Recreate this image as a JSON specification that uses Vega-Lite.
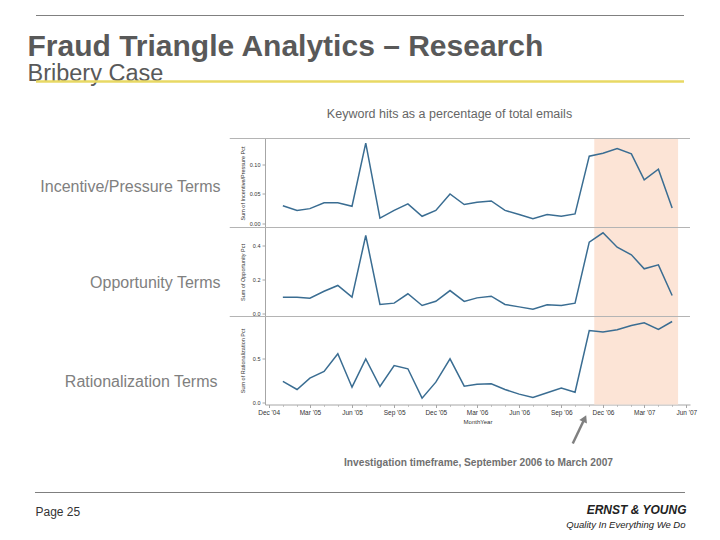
{
  "$schema": "https://vega.github.io/schema/vega-lite/v6.json",
  "background": "white",
  "padding": {"left": 27, "top": 14.5, "right": 5, "bottom": 5},
  "bounds": "flush",
  "spacing": 0,
  "resolve": {"scale": {"x": "independent", "y": "independent"}},
  "datasets": {
    "emails": [
      {"MonthYear": "2005-01-01", "Incentive/Pressure Pct": 0.030, "Opportunity Pct": 0.096, "Rationalization Pct": 0.239},
      {"MonthYear": "2005-02-01", "Incentive/Pressure Pct": 0.022, "Opportunity Pct": 0.096, "Rationalization Pct": 0.148},
      {"MonthYear": "2005-03-01", "Incentive/Pressure Pct": 0.025, "Opportunity Pct": 0.090, "Rationalization Pct": 0.277},
      {"MonthYear": "2005-04-01", "Incentive/Pressure Pct": 0.035, "Opportunity Pct": 0.131, "Rationalization Pct": 0.352},
      {"MonthYear": "2005-05-01", "Incentive/Pressure Pct": 0.035, "Opportunity Pct": 0.165, "Rationalization Pct": 0.553},
      {"MonthYear": "2005-06-01", "Incentive/Pressure Pct": 0.029, "Opportunity Pct": 0.096, "Rationalization Pct": 0.174},
      {"MonthYear": "2005-07-01", "Incentive/Pressure Pct": 0.136, "Opportunity Pct": 0.459, "Rationalization Pct": 0.496},
      {"MonthYear": "2005-08-01", "Incentive/Pressure Pct": 0.009, "Opportunity Pct": 0.053, "Rationalization Pct": 0.182},
      {"MonthYear": "2005-09-01", "Incentive/Pressure Pct": 0.022, "Opportunity Pct": 0.061, "Rationalization Pct": 0.420},
      {"MonthYear": "2005-10-01", "Incentive/Pressure Pct": 0.033, "Opportunity Pct": 0.116, "Rationalization Pct": 0.383},
      {"MonthYear": "2005-11-01", "Incentive/Pressure Pct": 0.012, "Opportunity Pct": 0.047, "Rationalization Pct": 0.049},
      {"MonthYear": "2005-12-01", "Incentive/Pressure Pct": 0.022, "Opportunity Pct": 0.072, "Rationalization Pct": 0.231},
      {"MonthYear": "2006-01-01", "Incentive/Pressure Pct": 0.050, "Opportunity Pct": 0.135, "Rationalization Pct": 0.496},
      {"MonthYear": "2006-02-01", "Incentive/Pressure Pct": 0.032, "Opportunity Pct": 0.071, "Rationalization Pct": 0.186},
      {"MonthYear": "2006-03-01", "Incentive/Pressure Pct": 0.036, "Opportunity Pct": 0.092, "Rationalization Pct": 0.208},
      {"MonthYear": "2006-04-01", "Incentive/Pressure Pct": 0.038, "Opportunity Pct": 0.102, "Rationalization Pct": 0.212},
      {"MonthYear": "2006-05-01", "Incentive/Pressure Pct": 0.022, "Opportunity Pct": 0.053, "Rationalization Pct": 0.148},
      {"MonthYear": "2006-06-01", "Incentive/Pressure Pct": 0.015, "Opportunity Pct": 0.039, "Rationalization Pct": 0.095},
      {"MonthYear": "2006-07-01", "Incentive/Pressure Pct": 0.008, "Opportunity Pct": 0.025, "Rationalization Pct": 0.057},
      {"MonthYear": "2006-08-01", "Incentive/Pressure Pct": 0.015, "Opportunity Pct": 0.051, "Rationalization Pct": 0.110},
      {"MonthYear": "2006-09-01", "Incentive/Pressure Pct": 0.012, "Opportunity Pct": 0.047, "Rationalization Pct": 0.163},
      {"MonthYear": "2006-10-01", "Incentive/Pressure Pct": 0.016, "Opportunity Pct": 0.061, "Rationalization Pct": 0.117},
      {"MonthYear": "2006-11-01", "Incentive/Pressure Pct": 0.114, "Opportunity Pct": 0.420, "Rationalization Pct": 0.818},
      {"MonthYear": "2006-12-01", "Incentive/Pressure Pct": 0.119, "Opportunity Pct": 0.475, "Rationalization Pct": 0.800},
      {"MonthYear": "2007-01-01", "Incentive/Pressure Pct": 0.127, "Opportunity Pct": 0.390, "Rationalization Pct": 0.826},
      {"MonthYear": "2007-02-01", "Incentive/Pressure Pct": 0.118, "Opportunity Pct": 0.345, "Rationalization Pct": 0.875},
      {"MonthYear": "2007-03-01", "Incentive/Pressure Pct": 0.074, "Opportunity Pct": 0.263, "Rationalization Pct": 0.905},
      {"MonthYear": "2007-04-01", "Incentive/Pressure Pct": 0.092, "Opportunity Pct": 0.286, "Rationalization Pct": 0.830},
      {"MonthYear": "2007-05-01", "Incentive/Pressure Pct": 0.026, "Opportunity Pct": 0.106, "Rationalization Pct": 0.920}
    ],
    "investigation": [{"start": "2006-11-12", "end": "2007-05-14"}],
    "frame": [{"u": 0.5, "v": 0.5}]
  },
  "vconcat": [
    {
      "width": 425, "height": 123,
      "data": {"name": "frame"},
      "layer": [
        {
          "mark": {"type": "point", "opacity": 0},
          "encoding": {
            "x": {"field": "u", "type": "quantitative", "scale": {"domain": [0, 1]},
              "axis": {"orient": "top", "domain": false, "ticks": false, "labels": false, "grid": false,
                "title": "Fraud Triangle Analytics – Research", "titleX": -238, "titleY": 40, "titleAlign": "left", "titleBaseline": "alphabetic",
                "titleFontSize": 30, "titleFontWeight": "bold", "titleColor": "#595959"}},
            "y": {"field": "v", "type": "quantitative", "scale": {"domain": [0, 1]},
              "axis": {"orient": "left", "domain": false, "ticks": false, "labels": false, "grid": false,
                "title": "Keyword hits as a percentage of total emails", "titleAngle": 0, "titleX": 184, "titleY": 102, "titleAlign": "center", "titleBaseline": "alphabetic",
                "titleFontSize": 12.5, "titleFontWeight": "normal", "titleColor": "#666666"}}
          }
        },
        {
          "mark": {"type": "point", "opacity": 0},
          "encoding": {
            "x": {"field": "u", "type": "quantitative", "scale": {"domain": [0, 1]},
              "axis": {"orient": "bottom", "domain": false, "ticks": false, "labels": false, "grid": false,
                "title": "Bribery Case", "titleX": -238, "titleY": -58, "titleAlign": "left", "titleBaseline": "alphabetic",
                "titleFontSize": 23.5, "titleFontWeight": "normal", "titleColor": "#595959"}}
          }
        },
        {
          "mark": {"type": "rule", "color": "#808080", "strokeWidth": 1, "clip": false},
          "encoding": {
            "x": {"datum": -0.5388, "type": "quantitative", "axis": null},
            "x2": {"datum": 0.9859},
            "y": {"datum": 1, "type": "quantitative", "axis": null}
          }
        },
        {
          "mark": {"type": "rule", "color": "#e8d964", "strokeWidth": 2.5, "clip": false},
          "encoding": {
            "x": {"datum": -0.5388, "type": "quantitative", "axis": null},
            "x2": {"datum": 0.9859},
            "y": {"datum": 0.4634, "type": "quantitative", "axis": null}
          }
        }
      ],
      "resolve": {"axis": {"x": "independent", "y": "independent"}}
    },
    {
      "width": 425, "height": 89,
      "layer": [
        {
          "data": {"name": "investigation"},
          "mark": {"type": "rect", "color": "#fce4d6"},
          "encoding": {
            "x": {"field": "start", "type": "temporal", "scale": {"domain": [{"year": 2004, "month": 11, "date": 23}, {"year": 2007, "month": 6, "date": 9}]}, "axis": null},
            "x2": {"field": "end"}
          }
        },
        {
          "data": {"name": "frame"},
          "mark": {"type": "rule", "color": "#b4b4b4", "strokeWidth": 1, "clip": false},
          "encoding": {
            "x": {"datum": {"year": 2004, "month": 9, "date": 7}, "type": "temporal", "axis": null},
            "x2": {"datum": {"year": 2007, "month": 6, "date": 9}},
            "y": {"datum": 0.144, "type": "quantitative", "scale": {"domain": [-0.007, 0.144], "nice": false, "zero": false},
              "axis": {"orient": "left", "domain": false, "ticks": false, "labels": false, "grid": false,
                "title": "Incentive/Pressure Terms", "titleAngle": 0, "titleX": -45, "titleY": 53, "titleAlign": "right", "titleBaseline": "alphabetic",
                "titleFontSize": 16, "titleFontWeight": "normal", "titleColor": "#808080"}}
          }
        },
        {
          "data": {"name": "emails"},
          "mark": {"type": "line", "color": "#3a6d92", "strokeWidth": 1.5},
          "encoding": {
            "x": {"field": "MonthYear", "type": "temporal", "scale": {"domain": [{"year": 2004, "month": 11, "date": 23}, {"year": 2007, "month": 6, "date": 9}]}, "axis": null},
            "y": {"field": "Incentive/Pressure Pct", "type": "quantitative", "scale": {"domain": [-0.007, 0.144], "nice": false, "zero": false},
              "axis": {"orient": "left", "values": [0, 0.05, 0.1], "format": ".2f", "domain": true, "domainColor": "#a6a6a6", "ticks": true, "tickSize": 3, "tickColor": "#a6a6a6",
                "labelFontSize": 5.5, "labelColor": "#333333", "labelPadding": 2, "grid": false,
                "title": "Sum of Incentive/Pressure Pct", "titleFontSize": 5.5, "titleFontWeight": "normal", "titleColor": "#333333", "titlePadding": 4}}
          }
        }
      ],
      "resolve": {"axis": {"x": "independent", "y": "independent"}}
    },
    {
      "width": 425, "height": 89,
      "layer": [
        {
          "data": {"name": "investigation"},
          "mark": {"type": "rect", "color": "#fce4d6"},
          "encoding": {
            "x": {"field": "start", "type": "temporal", "scale": {"domain": [{"year": 2004, "month": 11, "date": 23}, {"year": 2007, "month": 6, "date": 9}]}, "axis": null},
            "x2": {"field": "end"}
          }
        },
        {
          "data": {"name": "frame"},
          "mark": {"type": "rule", "color": "#b4b4b4", "strokeWidth": 1, "clip": false},
          "encoding": {
            "x": {"datum": {"year": 2004, "month": 9, "date": 7}, "type": "temporal", "axis": null},
            "x2": {"datum": {"year": 2007, "month": 6, "date": 9}},
            "y": {"datum": 0.506, "type": "quantitative", "scale": {"domain": [-0.0176, 0.506], "nice": false, "zero": false},
              "axis": {"orient": "left", "domain": false, "ticks": false, "labels": false, "grid": false,
                "title": "Opportunity Terms", "titleAngle": 0, "titleX": -45, "titleY": 59.7, "titleAlign": "right", "titleBaseline": "alphabetic",
                "titleFontSize": 16, "titleFontWeight": "normal", "titleColor": "#808080"}}
          }
        },
        {
          "data": {"name": "emails"},
          "mark": {"type": "line", "color": "#3a6d92", "strokeWidth": 1.5},
          "encoding": {
            "x": {"field": "MonthYear", "type": "temporal", "scale": {"domain": [{"year": 2004, "month": 11, "date": 23}, {"year": 2007, "month": 6, "date": 9}]}, "axis": null},
            "y": {"field": "Opportunity Pct", "type": "quantitative", "scale": {"domain": [-0.0176, 0.506], "nice": false, "zero": false},
              "axis": {"orient": "left", "values": [0, 0.2, 0.4], "format": ".1f", "domain": true, "domainColor": "#a6a6a6", "ticks": true, "tickSize": 3, "tickColor": "#a6a6a6",
                "labelFontSize": 5.5, "labelColor": "#333333", "labelPadding": 2, "grid": false,
                "title": "Sum of Opportunity Pct", "titleFontSize": 5.5, "titleFontWeight": "normal", "titleColor": "#333333", "titlePadding": 7}}
          }
        }
      ],
      "resolve": {"axis": {"x": "independent", "y": "independent"}}
    },
    {
      "width": 425, "height": 88,
      "layer": [
        {
          "data": {"name": "investigation"},
          "mark": {"type": "rect", "color": "#fce4d6"},
          "encoding": {
            "x": {"field": "start", "type": "temporal", "scale": {"domain": [{"year": 2004, "month": 11, "date": 23}, {"year": 2007, "month": 6, "date": 9}]},
              "axis": {"orient": "bottom", "values": [
                {"year": 2004, "month": 12, "date": 1}, {"year": 2005, "month": 1, "date": 1}, {"year": 2005, "month": 2, "date": 1}, {"year": 2005, "month": 3, "date": 1},
                {"year": 2005, "month": 4, "date": 1}, {"year": 2005, "month": 5, "date": 1}, {"year": 2005, "month": 6, "date": 1}, {"year": 2005, "month": 7, "date": 1},
                {"year": 2005, "month": 8, "date": 1}, {"year": 2005, "month": 9, "date": 1}, {"year": 2005, "month": 10, "date": 1}, {"year": 2005, "month": 11, "date": 1},
                {"year": 2005, "month": 12, "date": 1}, {"year": 2006, "month": 1, "date": 1}, {"year": 2006, "month": 2, "date": 1}, {"year": 2006, "month": 3, "date": 1},
                {"year": 2006, "month": 4, "date": 1}, {"year": 2006, "month": 5, "date": 1}, {"year": 2006, "month": 6, "date": 1}, {"year": 2006, "month": 7, "date": 1},
                {"year": 2006, "month": 8, "date": 1}, {"year": 2006, "month": 9, "date": 1}, {"year": 2006, "month": 10, "date": 1}, {"year": 2006, "month": 11, "date": 1},
                {"year": 2006, "month": 12, "date": 1}, {"year": 2007, "month": 1, "date": 1}, {"year": 2007, "month": 2, "date": 1}, {"year": 2007, "month": 3, "date": 1},
                {"year": 2007, "month": 4, "date": 1}, {"year": 2007, "month": 5, "date": 1}, {"year": 2007, "month": 6, "date": 1}],
                "domain": false, "labels": false, "ticks": true, "tickSize": 2, "tickColor": "#c8c8c8", "grid": false, "title": null}},
            "x2": {"field": "end"}
          }
        },
        {
          "data": {"name": "frame"},
          "mark": {"type": "rule", "color": "#b4b4b4", "strokeWidth": 1, "clip": false},
          "encoding": {
            "x": {"datum": {"year": 2004, "month": 9, "date": 7}, "type": "temporal", "axis": null},
            "x2": {"datum": {"year": 2007, "month": 6, "date": 9}},
            "y": {"datum": 0.977, "type": "quantitative", "scale": {"domain": [-0.0227, 0.977], "nice": false, "zero": false},
              "axis": {"orient": "left", "domain": false, "ticks": false, "labels": false, "grid": false,
                "title": "Rationalization Terms", "titleAngle": 0, "titleX": -48, "titleY": 69.7, "titleAlign": "right", "titleBaseline": "alphabetic",
                "titleFontSize": 16, "titleFontWeight": "normal", "titleColor": "#808080"}}
          }
        },
        {
          "data": {"name": "emails"},
          "mark": {"type": "line", "color": "#3a6d92", "strokeWidth": 1.5},
          "encoding": {
            "x": {"field": "MonthYear", "type": "temporal", "scale": {"domain": [{"year": 2004, "month": 11, "date": 23}, {"year": 2007, "month": 6, "date": 9}]},
              "axis": {"orient": "bottom", "values": [
                {"year": 2004, "month": 12, "date": 1}, {"year": 2005, "month": 3, "date": 1}, {"year": 2005, "month": 6, "date": 1}, {"year": 2005, "month": 9, "date": 1},
                {"year": 2005, "month": 12, "date": 1}, {"year": 2006, "month": 3, "date": 1}, {"year": 2006, "month": 6, "date": 1}, {"year": 2006, "month": 9, "date": 1},
                {"year": 2006, "month": 12, "date": 1}, {"year": 2007, "month": 3, "date": 1}, {"year": 2007, "month": 6, "date": 1}],
                "format": "%b '%y", "labelFontSize": 6.5, "labelColor": "#333333", "labelPadding": 2, "labelFlush": false, "labelOverlap": false,
                "domain": true, "domainColor": "#a6a6a6", "ticks": true, "tickSize": 3, "tickColor": "#a6a6a6", "grid": false,
                "title": "MonthYear", "titleFontSize": 6, "titleFontWeight": "normal", "titleColor": "#333333", "titlePadding": 2}},
            "y": {"field": "Rationalization Pct", "type": "quantitative", "scale": {"domain": [-0.0227, 0.977], "nice": false, "zero": false},
              "axis": {"orient": "left", "values": [0, 0.5], "format": ".1f", "domain": true, "domainColor": "#a6a6a6", "ticks": true, "tickSize": 3, "tickColor": "#a6a6a6",
                "labelFontSize": 5.5, "labelColor": "#333333", "labelPadding": 2, "grid": false,
                "title": "Sum of Rationalization Pct", "titleFontSize": 5.5, "titleFontWeight": "normal", "titleColor": "#333333", "titlePadding": 7}}
          }
        },
        {
          "data": {"name": "frame"},
          "mark": {"type": "rule", "color": "#808080", "strokeWidth": 2.5, "clip": false},
          "encoding": {
            "x": {"datum": {"year": 2006, "month": 9, "date": 26}, "type": "temporal", "axis": null},
            "x2": {"datum": {"year": 2006, "month": 10, "date": 22}},
            "y": {"datum": -0.466, "type": "quantitative", "scale": {"domain": [-0.0227, 0.977], "nice": false, "zero": false}, "axis": null},
            "y2": {"datum": -0.182}
          }
        },
        {
          "data": {"name": "frame"},
          "mark": {"type": "point", "shape": "triangle-up", "filled": true, "color": "#808080", "opacity": 1, "size": 70, "angle": 25, "clip": false},
          "encoding": {
            "x": {"datum": {"year": 2006, "month": 10, "date": 22}, "type": "temporal", "axis": null},
            "y": {"datum": -0.182, "type": "quantitative", "scale": {"domain": [-0.0227, 0.977], "nice": false, "zero": false}, "axis": null}
          }
        }
      ],
      "resolve": {"axis": {"x": "independent", "y": "independent"}}
    },
    {
      "width": 425, "height": 88,
      "data": {"name": "frame"},
      "layer": [
        {
          "mark": {"type": "point", "opacity": 0},
          "encoding": {
            "x": {"field": "u", "type": "quantitative", "scale": {"domain": [0, 1]},
              "axis": {"orient": "bottom", "domain": false, "ticks": false, "labels": false, "grid": false,
                "title": "Page 25", "titleX": -230, "titleY": 23, "titleAlign": "left", "titleBaseline": "alphabetic",
                "titleFontSize": 12, "titleFontWeight": "normal", "titleColor": "#333333"}},
            "y": {"field": "v", "type": "quantitative", "scale": {"domain": [0, 1]},
              "axis": {"orient": "left", "domain": false, "ticks": false, "labels": false, "grid": false,
                "title": "Investigation timeframe, September 2006 to March 2007", "titleAngle": 0, "titleX": 213, "titleY": 61, "titleAlign": "center", "titleBaseline": "alphabetic",
                "titleFontSize": 10.2, "titleFontWeight": "bold", "titleColor": "#707070"}}
          }
        },
        {
          "mark": {"type": "point", "opacity": 0},
          "encoding": {
            "x": {"field": "u", "type": "quantitative", "scale": {"domain": [0, 1]},
              "axis": {"orient": "top", "domain": false, "ticks": false, "labels": false, "grid": false,
                "title": "Quality In Everything We Do", "titleX": 420, "titleY": 123, "titleAlign": "right", "titleBaseline": "alphabetic",
                "titleFontSize": 9.5, "titleFontStyle": "italic", "titleFontWeight": "normal", "titleColor": "#222222"}},
            "y": {"field": "v", "type": "quantitative", "scale": {"domain": [0, 1]},
              "axis": {"orient": "right", "domain": false, "ticks": false, "labels": false, "grid": false,
                "title": "ERNST & YOUNG", "titleAngle": 0, "titleX": -4, "titleY": 109, "titleAlign": "right", "titleBaseline": "alphabetic",
                "titleFontSize": 12, "titleFontStyle": "italic", "titleFontWeight": "bold", "titleColor": "#222222"}}
          }
        },
        {
          "mark": {"type": "rule", "color": "#7f7f7f", "strokeWidth": 1, "clip": false},
          "encoding": {
            "x": {"datum": -0.5412, "type": "quantitative", "axis": null},
            "x2": {"datum": 0.9882},
            "y": {"datum": 0, "type": "quantitative", "axis": null}
          }
        }
      ],
      "resolve": {"axis": {"x": "independent", "y": "independent"}}
    }
  ],
  "config": {
    "font": "Liberation Sans",
    "view": {"stroke": null},
    "axis": {"labelFont": "Liberation Sans", "titleFont": "Liberation Sans"},
    "title": {"font": "Liberation Sans"}
  }
}
